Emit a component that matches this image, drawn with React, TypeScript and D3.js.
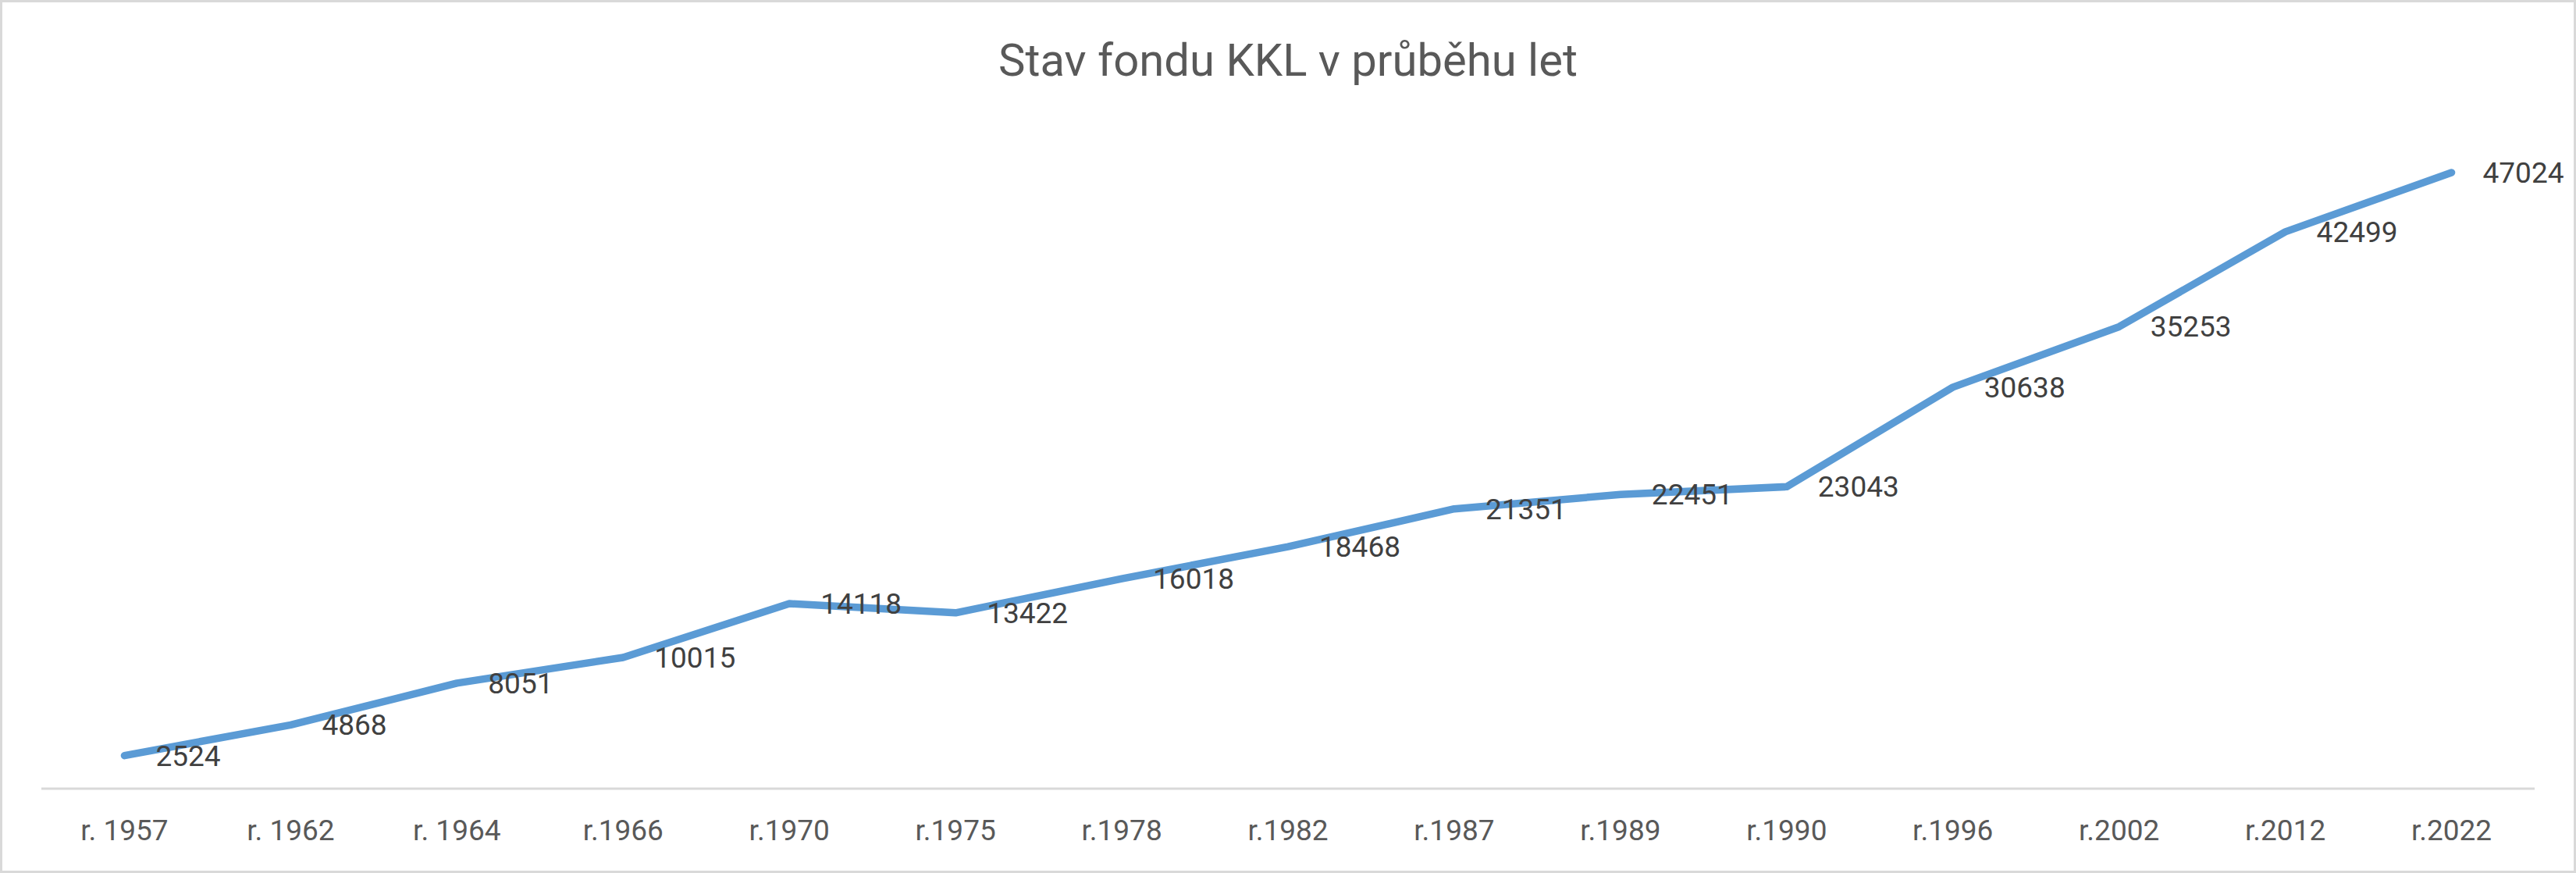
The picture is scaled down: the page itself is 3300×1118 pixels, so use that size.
import React from 'react';
import * as d3 from 'd3';

const years = ["r. 1957", "r. 1962", "r. 1964", "r.1966", "r.1970", "r.1975", "r.1978", "r.1982", "r.1987", "r.1989", "r.1990", "r.1996", "r.2002", "r.2012", "r.2022"];
const fundValues = [2524, 4868, 8051, 10015, 14118, 13422, 16018, 18468, 21351, 22451, 23043, 30638, 35253, 42499, 47024];
const yDomain = [0, 50000];

const width = 3300;
const height = 1118;
const plot = { left: 53, right: 3247, top: 171, bottom: 1010 };
const font = "Roboto, 'Noto Sans', sans-serif";

export default function App() {
  const x = d3.scaleBand().domain(years).range([plot.left, plot.right]);
  const y = d3.scaleLinear().domain(yDomain).range([plot.bottom, plot.top]);
  const cx = (d: string) => (x(d) ?? 0) + x.bandwidth() / 2;

  const points = years.map((d, i) => ({ label: d, value: fundValues[i] }));
  const line = d3.line<any>()
    .x((d) => cx(d.label))
    .y((d) => y(d.value));

  return (
    <svg width={width} height={height} style={{ position: 'absolute', left: 0, top: 0, background: '#fff' }}>
      <rect x={1.5} y={1.5} width={width - 3} height={height - 3} fill="#fff" stroke="#d9d9d9" strokeWidth={3} />
      <text x={width / 2} y={97} textAnchor="middle" fontFamily={font} fontSize={58} fill="#595959">
        Stav fondu KKL v průběhu let
      </text>
      <line x1={plot.left} x2={plot.right} y1={plot.bottom} y2={plot.bottom} stroke="#d9d9d9" strokeWidth={3} />
      {years.map((d) => (
        <text key={d} x={cx(d)} y={1063} dy="0.35em" textAnchor="middle" fontFamily={font} fontSize={37} fill="#595959">
          {d}
        </text>
      ))}
      <path d={line(points) ?? ''} fill="none" stroke="#5b9bd5" strokeWidth={9.5} strokeLinecap="round" strokeLinejoin="round" />
      {points.map((p) => (
        <text key={p.label} x={cx(p.label) + 40} y={y(p.value)} dy="0.35em" fontFamily={font} fontSize={37} fill="#404040">
          {p.value}
        </text>
      ))}
    </svg>
  );
}
